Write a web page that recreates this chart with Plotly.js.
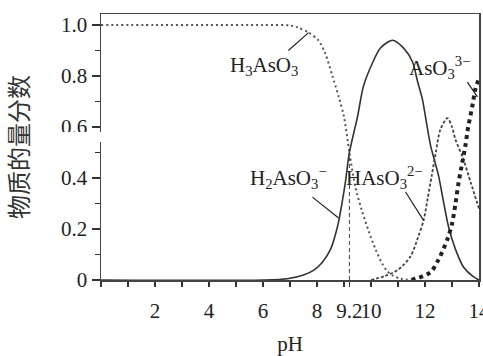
<!DOCTYPE html>
<html><head><meta charset="utf-8">
<script src="https://cdn.plot.ly/plotly-3.0.1.min.js"></script>
<style>html,body{margin:0;padding:0;background:#fff}#chart{width:483px;height:356px}</style>
</head><body><div id="chart"></div>
<script>
// pH values and fractions
const phH3AsO3 = [0, 2, 4, 6, 7, 7.3, 7.7, 8.05, 8.3, 8.57, 8.8, 9.0, 9.2, 9.43, 9.67, 9.92, 10.17, 10.41, 10.6, 10.8, 11.1, 11.5];
const fH3AsO3  = [1.0, 1.0, 1.0, 1.0, 0.998, 0.99, 0.97, 0.94, 0.89, 0.80, 0.72, 0.64, 0.50, 0.36, 0.27, 0.19, 0.12, 0.065, 0.035, 0.018, 0.005, 0];

const phH2AsO3 = [0, 6, 6.9, 7.5, 7.9, 8.2, 8.5, 8.76, 8.94, 9.06, 9.2, 9.5, 9.72, 10.05, 10.35, 10.8, 11.2, 11.54, 11.72, 11.9, 12.05, 12.2, 12.35, 12.5, 12.68, 12.87, 13.13, 13.43, 13.8, 14];
const fH2AsO3  = [0, 0, 0.005, 0.02, 0.04, 0.07, 0.12, 0.21, 0.31, 0.39, 0.50, 0.64, 0.76, 0.85, 0.91, 0.94, 0.91, 0.855, 0.78, 0.71, 0.62, 0.53, 0.47, 0.41, 0.31, 0.21, 0.12, 0.05, 0.012, 0];

const phHAsO3 = [10.0, 10.5, 11.0, 11.45, 11.75, 11.95, 12.1, 12.25, 12.4, 12.57, 12.83, 13.0, 13.13, 13.4, 13.7, 14];
const fHAsO3  = [0, 0.015, 0.04, 0.09, 0.17, 0.235, 0.32, 0.41, 0.50, 0.59, 0.635, 0.60, 0.55, 0.48, 0.38, 0.28];

const phAsO3 = [11.5, 12.2, 12.5, 12.83, 13.0, 13.13, 13.24, 13.38, 13.5, 13.6, 13.75, 13.87, 14];
const fAsO3  = [0, 0.03, 0.08, 0.16, 0.22, 0.30, 0.38, 0.46, 0.53, 0.60, 0.68, 0.75, 0.79];

const pKa1X = [9.2, 9.2];
const pKa1Y = [0, 0.5];

const xTickVals = [2, 4, 6, 8, 9.2, 10, 12, 14];
const xTickText = ['2', '4', '6', '8', '9.2', '10', '12', '14'];
const yTickVals = [0, 0.2, 0.4, 0.6, 0.8, 1.0];
const yTickText = ['0', '0.2', '0.4', '0.6', '0.8', '1.0'];

const lineCol = '#333';
const serif = 'Liberation Serif, Times New Roman, serif';

const traces = [
  {x: phH3AsO3, y: fH3AsO3, mode: 'lines', line: {color: '#555', width: 2, dash: '2px,3px', shape: 'spline', smoothing: 0.8}},
  {x: phH2AsO3, y: fH2AsO3, mode: 'lines', line: {color: lineCol, width: 1.6, shape: 'spline', smoothing: 0.8}},
  {x: phHAsO3, y: fHAsO3, mode: 'lines', line: {color: '#444', width: 1.8, dash: '3px,2px', shape: 'spline', smoothing: 0.8}},
  {x: phAsO3, y: fAsO3, mode: 'lines', line: {color: '#222', width: 4, dash: '4px,4px', shape: 'spline', smoothing: 0.8}},
  {x: pKa1X, y: pKa1Y, mode: 'lines', line: {color: '#444', width: 1, dash: '4px,3px'}}
];

const lbl = (x, y, t) => ({x, y, xref: 'x', yref: 'y', text: t, showarrow: false,
  xanchor: 'center', yanchor: 'middle', font: {family: serif, size: 21, color: '#222'}});
const leader = (x0, y0, x1, y1) => ({type: 'line', xref: 'x', yref: 'y', x0, y0, x1, y1,
  line: {color: '#222', width: 1.2}});

const layout = {
  width: 483, height: 356,
  margin: {l: 101, r: 4, t: 14, b: 76},
  paper_bgcolor: '#fff', plot_bgcolor: '#fff',
  showlegend: false,
  font: {family: serif, size: 21, color: '#222'},
  xaxis: {
    range: [0, 14], tickmode: 'array', tickvals: xTickVals, ticktext: xTickText, tickangle: 0,
    ticklabeloverflow: 'allow', ticklabelstandoff: 6,
    ticks: 'outside', ticklen: 5, tickwidth: 1.2, tickcolor: '#333',
    minor: {dtick: 1, tick0: 0, ticks: 'outside', ticklen: 5, tickwidth: 1.2, tickcolor: '#333'},
    showline: true, linecolor: '#444', linewidth: 1.5, mirror: true,
    showgrid: false, zeroline: false,
    tickfont: {family: serif, size: 21, color: '#222'},
    title: {text: 'pH', font: {family: serif, size: 21, color: '#222'}, standoff: 14}
  },
  yaxis: {
    range: [0, 1.043], tickmode: 'array', tickvals: yTickVals, ticktext: yTickText,
    ticks: 'outside', ticklen: 8, tickwidth: 1.2, tickcolor: '#333',
    minor: {dtick: 0.1, tick0: 0, ticks: 'outside', ticklen: 5, tickwidth: 1.2, tickcolor: '#333'},
    showline: true, linecolor: '#444', linewidth: 1.5, mirror: true,
    showgrid: false, zeroline: false,
    tickfont: {family: serif, size: 21, color: '#222'},
    title: {text: '物质的量分数', font: {family: 'Noto Sans CJK SC', size: 24, color: '#333'}, standoff: 27}
  },
  annotations: [
    lbl(6.02, 0.84, 'H<sub>3</sub>AsO<sub>3</sub>'),
    lbl(6.94, 0.40, 'H<sub>2</sub>AsO<sub>3</sub><sup>−</sup>'),
    lbl(10.5, 0.40, 'HAsO<sub>3</sub><sup>2−</sup>'),
    lbl(12.57, 0.835, 'AsO<sub>3</sub><sup>3−</sup>')
  ],
  shapes: [
    leader(6.94, 0.90, 7.69, 0.97),
    leader(7.83, 0.325, 8.8, 0.243),
    leader(11.28, 0.345, 11.94, 0.235),
    leader(13.57, 0.776, 13.94, 0.718),
    {type: 'rect', xref: 'paper', yref: 'y', x0: -0.235, x1: 0.004, y0: 0.541, y1: 0.58,
     fillcolor: '#fff', line: {width: 0}, layer: 'above'}
  ]
};

Plotly.newPlot('chart', traces, layout, {displayModeBar: false, staticPlot: true});
</script></body></html>
